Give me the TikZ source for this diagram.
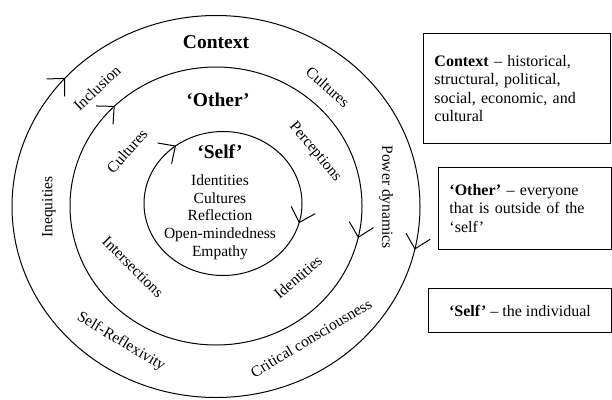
\documentclass[tikz,border=0pt]{standalone}
\usepackage{fontspec}
\setmainfont{Liberation Serif}
\usetikzlibrary{arrows.meta,decorations.markings}

\begin{document}
\begin{tikzpicture} [
                    x=1pt, y=-1pt,
                    barb/.tip={Straight Barb[length=13pt, width=25pt, line width=1pt]},
                    ring/.style={draw, line width=1pt},
                    barbs/.style 2 args={postaction={decorate, decoration={markings,
                        mark=at position #1 with {\arrow{barb}},
                        mark=at position #2 with {\arrow{barb}}}}},
                    head/.style={inner sep=0pt, font=\fontsize{19.5}{22}\selectfont\bfseries},
                    lbl/.style={inner sep=0pt, font=\fontsize{15.5}{17.7}\selectfont},
                    note/.style={draw, line width=0.9pt, anchor=north west, align=left, inner xsep=11pt, font=\fontsize{16}{18.6}\selectfont}
                ]
                \useasboundingbox (0,0) rectangle (612,399);

                \draw [ring, barbs={0.035}{0.615}] (216,206.5) ellipse [x radius=204, y radius=191];
                \draw [ring, barbs={0.036}{0.626}] (216,206) ellipse [x radius=146, y radius=139];
                \draw [ring, barbs={0.042}{0.645}] (223,203.5) ellipse [x radius=79, y radius=72];

                \node [head] (context) at (216,42) {Context};
                \node [head] (other) at (218,100) {‘Other’};
                \node [head] (self) at (220,152) {‘Self’};
                \node [lbl, align=center] (selflist) at (220,217) {Identities\\Cultures\\Reflection\\Open-mindedness\\Empathy};

                \node [lbl, rotate=43] (inclusion) at (97,88) {Inclusion};
                \node [lbl, rotate=-42] (ctxcultures) at (328,87) {Cultures};
                \node [lbl, rotate=-90] (power) at (386,197) {Power dynamics};
                \node [lbl, rotate=90] (inequities) at (49,207) {Inequities};
                \node [lbl, rotate=-31] (reflexivity) at (121,342) {Self-Reflexivity};
                \node [lbl, rotate=31] (critical) at (311,338) {Critical consciousness};

                \node [lbl, rotate=48] (othcultures) at (127,151) {Cultures};
                \node [lbl, rotate=-50] (perceptions) at (315,152) {Perceptions};
                \node [lbl, rotate=-45] (intersections) at (133,267) {Intersections};
                \node [lbl, rotate=41] (identities) at (298,277) {Identities};

                \node [note, text width=165pt, minimum height=110pt] (ctxnote) at (423,33) {\textbf{Context} – historical,\\structural, political,\\social, economic, and\\cultural};
                \node [note, text width=151pt, minimum height=82pt] (othnote) at (438,167) {\textbf{‘Other’} – everyone\\that is outside of the\\‘self’};
                \node [note, align=center, minimum width=183pt, minimum height=44pt] (selfnote) at (428,288) {\textbf{‘Self’} – the individual};
                \end{tikzpicture}
\end{document}
